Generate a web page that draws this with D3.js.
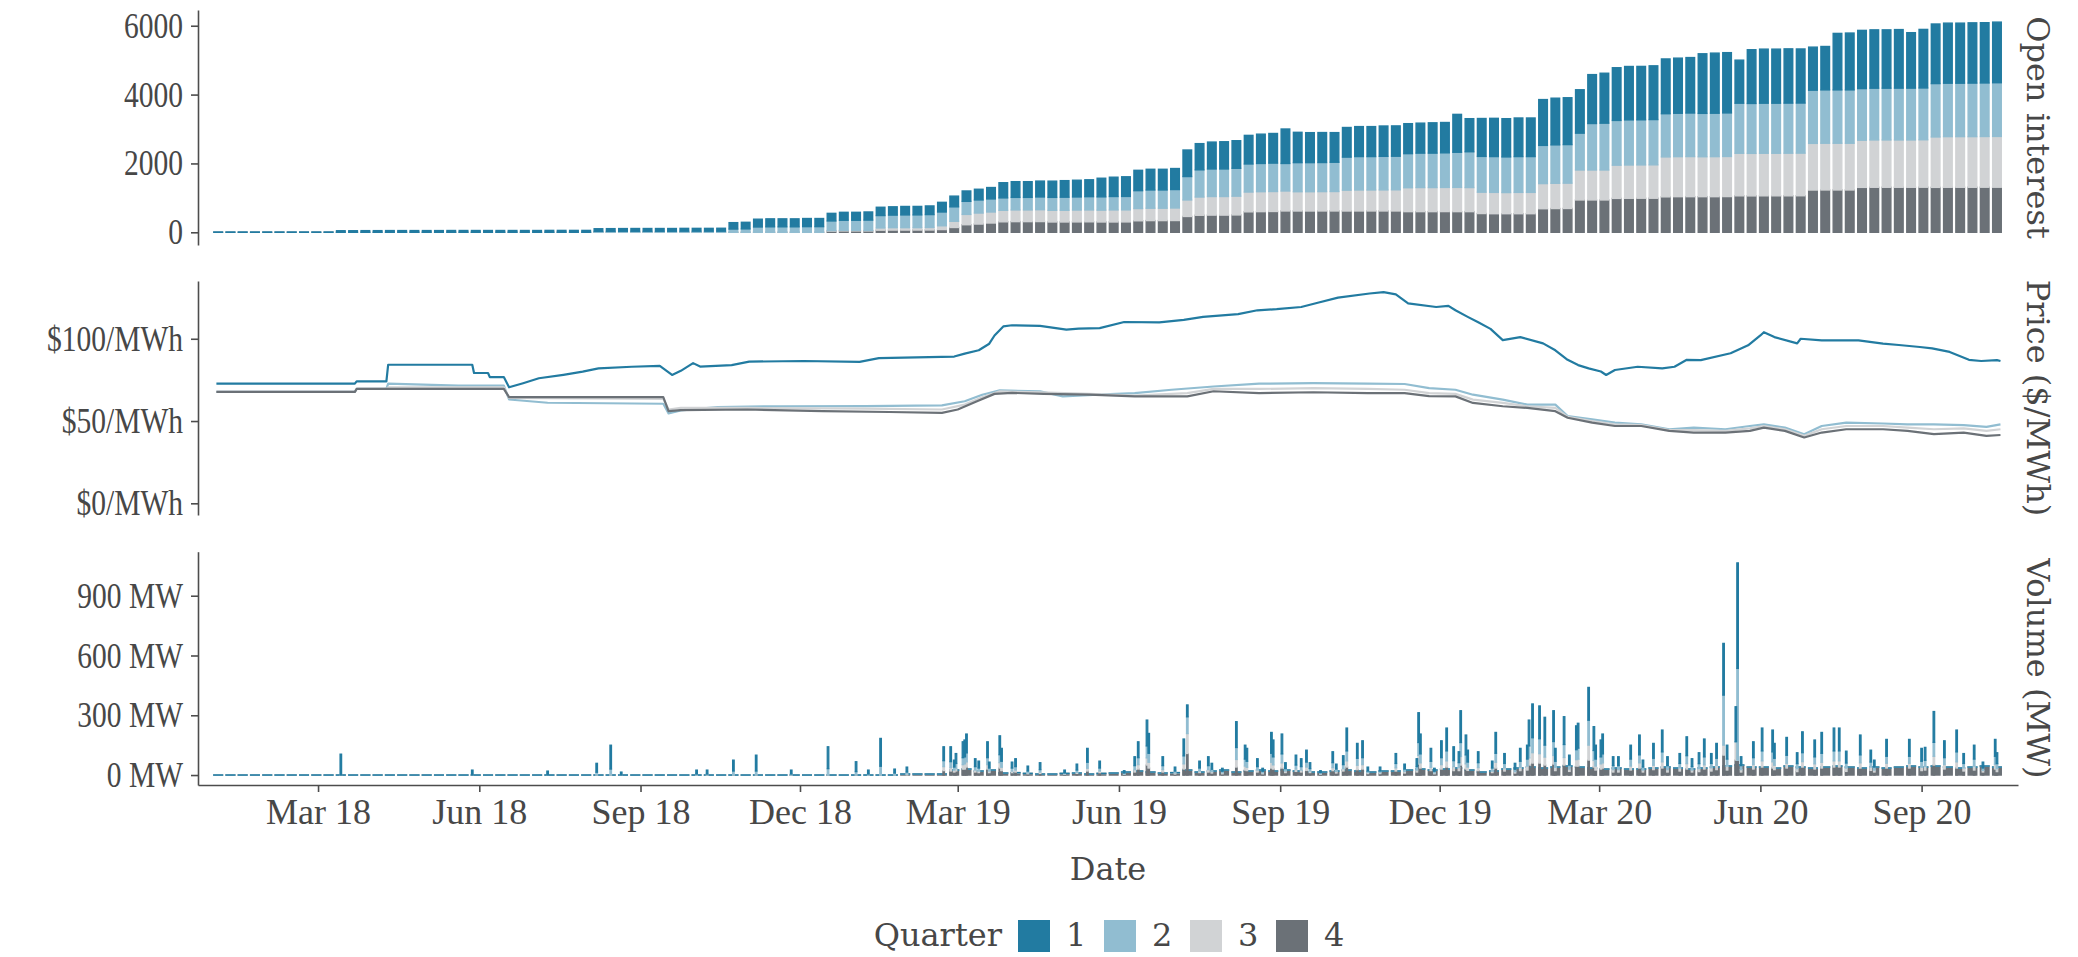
<!DOCTYPE html>
<html>
<head>
<meta charset="utf-8">
<script src="https://cdn.jsdelivr.net/npm/d3@7"></script>
<style>
body { margin: 0; background: #fff; }
svg text { fill: #474747; }
</style>
</head>
<body>
<script>
// quarters and their colours
var quarters = ["1", "2", "3", "4"];
var quarterColors = ["#227ba1", "#91bdd1", "#d1d3d5", "#6b7177"];

// x axis tick labels
var xTickDates = ["2018-03-01", "2018-06-01", "2018-09-01", "2018-12-01", "2019-03-01", "2019-06-01",
   "2019-09-01", "2019-12-01", "2020-03-01", "2020-06-01", "2020-09-01"];
var oiTicks = [0, 2000, 4000, 6000];
var priceTicks = [0, 50, 100];
var volTicks = [0, 300, 600, 900];

// open interest, one value per trading week, weeks starting Mon 1 Jan 2018
var oiFirstWeek = "2018-01-01";
var oiQ1 = [8, 8, 8, 8, 8, 8, 8, 8, 8, 8,
   45, 45, 48, 48, 50, 50, 50, 50, 50, 52, 52, 52, 52, 52, 52, 52, 52, 55, 55, 55, 55,
   75, 78, 78, 80, 80, 80, 80, 82, 82, 82, 85,
   185, 190, 225, 230, 230, 230, 235, 235,
   220, 230, 230, 235, 240, 240, 245, 245, 250, 280, 310,
   300, 310, 330, 440, 455, 455, 460, 470, 480, 485, 490, 540, 560, 570,
   590, 600, 600, 610, 770, 760, 780, 790, 800, 830, 850, 860, 1000,
   880, 870, 870, 860, 860, 870, 870, 880, 880, 870, 870, 880, 880, 1100, 960,
   1100, 1110, 1110, 1120, 1120, 1330, 1355, 1360, 1260, 1420, 1450,
   1530, 1550, 1550, 1560, 1590, 1600, 1610, 1730, 1745, 1750, 1250,
   1560, 1570, 1570, 1575, 1570, 1250, 1260, 1640, 1650,
   1690, 1694, 1694, 1700, 1610, 1700, 1730, 1744, 1744, 1750, 1750, 1760];
var oiQ2 = [0, 0, 0, 0, 0, 0, 0, 0, 0, 0,
   0, 0, 0, 0, 0, 0, 0, 0, 0, 0, 0, 0, 0, 0, 0, 0, 0, 0, 0, 0, 0,
   28, 28, 30, 30, 30, 30, 30, 32, 32, 32, 32,
   95, 100, 155, 160, 160, 160, 165, 165,
   280, 290, 290, 300, 360, 365, 370, 370, 375, 400, 420,
   380, 380, 380, 360, 365, 365, 370, 375, 380, 380, 385, 385, 390, 390,
   520, 530, 530, 535, 680, 790, 800, 800, 810, 815, 820, 825, 800,
   845, 845, 845, 850, 960, 970, 970, 975, 975, 990, 1000, 1000, 1005, 1020, 1040,
   1040, 1040, 1035, 1040, 1040, 1110, 1116, 1120, 1070, 1350, 1360,
   1300, 1310, 1310, 1315, 1255, 1260, 1265, 1260, 1261, 1265, 1454,
   1450, 1454, 1454, 1455, 1455, 1545, 1550, 1550, 1550,
   1500, 1503, 1503, 1505, 1505, 1505, 1550, 1552, 1552, 1555, 1555, 1560];
var oiQ3 = [0, 0, 0, 0, 0, 0, 0, 0, 0, 0,
   0, 0, 0, 0, 0, 0, 0, 0, 0, 0, 0, 0, 0, 0, 0, 0, 0, 0, 0, 0, 0,
   0, 0, 0, 0, 0, 0, 0, 0, 0, 0, 0,
   0, 0, 0, 0, 0, 0, 0, 0,
   15, 20, 20, 15, 65, 70, 70, 70, 72, 110, 180,
   300, 320, 320, 335, 340, 340, 345, 340, 340, 345, 345, 345, 350, 350,
   355, 360, 360, 365, 480, 530, 540, 540, 545, 575, 580, 580, 580,
   560, 560, 562, 565, 605, 610, 610, 612, 615, 695, 700, 700, 702, 705, 700,
   620, 620, 615, 620, 620, 730, 734, 736, 870, 870, 870,
   965, 968, 968, 970, 1160, 1163, 1165, 1160, 1163, 1165, 1236,
   1235, 1236, 1236, 1238, 1238, 1355, 1357, 1357, 1357,
   1370, 1375, 1375, 1375, 1375, 1378, 1465, 1471, 1471, 1471, 1473, 1475];
var oiQ4 = [0, 0, 0, 0, 0, 0, 0, 0, 0, 0,
   0, 0, 0, 0, 0, 0, 0, 0, 0, 0, 0, 0, 0, 0, 0, 0, 0, 0, 0, 0, 0,
   0, 0, 0, 0, 0, 0, 0, 0, 0, 0, 0,
   0, 0, 0, 0, 0, 0, 0, 0,
   35, 40, 40, 40, 62, 65, 65, 66, 68, 80, 140,
   220, 240, 270, 305, 310, 310, 312, 300, 300, 302, 305, 300, 300, 302,
   335, 340, 340, 342, 460, 495, 500, 500, 505, 595, 600, 605, 620,
   619, 619, 620, 620, 619, 620, 620, 620, 620, 600, 600, 600, 602, 600, 600,
   545, 540, 540, 540, 540, 685, 690, 692, 940, 940, 940,
   985, 988, 990, 990, 1030, 1035, 1035, 1035, 1035, 1038, 1060,
   1058, 1060, 1060, 1060, 1062, 1228, 1230, 1230, 1230,
   1305, 1308, 1308, 1308, 1308, 1310, 1305, 1308, 1308, 1308, 1310, 1310];

// settlement prices ($/MWh) [date, value]
var priceQ1 = [["2018-01-02", 72.7], ["2018-03-22", 72.7], ["2018-03-23", 74.1], ["2018-04-09", 74.1],
   ["2018-04-10", 84.2], ["2018-05-28", 84.2], ["2018-05-29", 79.2], ["2018-06-06", 79.2], ["2018-06-07", 76.7],
   ["2018-06-15", 76.7], ["2018-06-18", 70.5], ["2018-06-26", 73], ["2018-07-05", 76], ["2018-07-19", 78.1],
   ["2018-07-30", 80], ["2018-08-08", 82], ["2018-08-27", 83], ["2018-09-12", 83.5], ["2018-09-19", 78],
   ["2018-09-24", 80.5], ["2018-10-01", 85.2], ["2018-10-05", 83.1], ["2018-10-23", 84], ["2018-11-02", 86.1],
   ["2018-12-03", 86.5], ["2019-01-04", 86], ["2019-01-15", 88.2], ["2019-02-27", 89.2], ["2019-03-05", 91],
   ["2019-03-13", 93], ["2019-03-19", 97], ["2019-03-22", 102], ["2019-03-27", 107.5], ["2019-04-01", 108.2],
   ["2019-04-17", 107.8], ["2019-05-02", 105.5], ["2019-05-09", 106.2], ["2019-05-21", 106.5], ["2019-06-04", 110.2],
   ["2019-06-24", 110], ["2019-07-08", 111.5], ["2019-07-19", 113.3], ["2019-08-08", 115], ["2019-08-19", 117.3],
   ["2019-08-30", 118], ["2019-09-13", 119.3], ["2019-09-23", 122], ["2019-10-04", 125], ["2019-10-22", 127.5],
   ["2019-10-30", 128.3], ["2019-11-06", 127], ["2019-11-13", 121.5], ["2019-11-29", 119.3], ["2019-12-06", 120],
   ["2019-12-10", 117.3], ["2019-12-17", 113.3], ["2019-12-23", 110], ["2019-12-30", 106], ["2020-01-06", 99.2],
   ["2020-01-16", 101], ["2020-01-29", 97.2], ["2020-02-05", 93], ["2020-02-12", 87.2], ["2020-02-18", 84],
   ["2020-02-24", 82], ["2020-03-02", 80.1], ["2020-03-05", 78], ["2020-03-10", 81], ["2020-03-23", 83],
   ["2020-04-06", 82], ["2020-04-13", 83], ["2020-04-20", 87.2], ["2020-04-28", 87], ["2020-05-15", 91.2],
   ["2020-05-25", 96], ["2020-06-01", 102], ["2020-06-03", 104], ["2020-06-09", 101], ["2020-06-22", 97.2],
   ["2020-06-24", 100], ["2020-07-06", 99], ["2020-07-27", 99], ["2020-08-10", 97], ["2020-08-19", 96.2],
   ["2020-08-31", 95], ["2020-09-07", 94.2], ["2020-09-17", 92], ["2020-09-28", 87.2], ["2020-10-05", 86.5],
   ["2020-10-14", 87], ["2020-10-16", 86.5]];
var priceQ2 = [["2018-01-02", 67.7], ["2018-03-22", 67.7], ["2018-03-23", 69.5], ["2018-04-09", 69.5],
   ["2018-04-10", 72.7], ["2018-05-20", 71.5], ["2018-06-15", 71.5], ["2018-06-18", 63.1], ["2018-07-10", 61.1],
   ["2018-09-14", 60.5], ["2018-09-17", 54.6], ["2018-09-24", 56.5], ["2018-10-15", 58.5],
   ["2018-11-20", 59], ["2019-01-07", 59.1], ["2019-02-20", 59.5], ["2019-03-05", 62], ["2019-03-15", 66],
   ["2019-03-25", 68.7], ["2019-04-17", 68], ["2019-04-30", 65], ["2019-05-20", 66.1], ["2019-06-10", 67],
   ["2019-07-01", 69], ["2019-07-25", 71], ["2019-08-20", 72.7], ["2019-09-20", 73], ["2019-10-21", 72.7],
   ["2019-11-11", 72.5], ["2019-11-25", 70], ["2019-12-10", 69], ["2019-12-20", 66], ["2020-01-06", 63],
   ["2020-01-20", 60], ["2020-02-05", 60], ["2020-02-12", 53], ["2020-02-26", 51], ["2020-03-10", 49],
   ["2020-03-25", 48], ["2020-04-10", 45], ["2020-04-24", 46], ["2020-05-12", 45], ["2020-05-26", 47],
   ["2020-06-03", 48], ["2020-06-15", 46], ["2020-06-26", 42], ["2020-07-06", 47], ["2020-07-20", 49],
   ["2020-08-10", 48.5], ["2020-08-24", 48], ["2020-09-08", 48], ["2020-09-25", 47.5], ["2020-10-08", 46.5],
   ["2020-10-16", 48]];
var priceQ3 = [["2018-01-02", 67.7], ["2018-03-22", 67.7], ["2018-03-23", 69.5], ["2018-04-09", 69.5],
   ["2018-04-10", 70.5], ["2018-06-15", 70.5], ["2018-06-18", 64], ["2018-09-14", 63.5],
   ["2018-09-17", 57], ["2018-09-24", 58], ["2018-11-01", 58], ["2019-01-07", 57.5], ["2019-02-20", 57],
   ["2019-03-05", 60], ["2019-03-15", 64.5], ["2019-03-25", 68], ["2019-04-17", 67.5], ["2019-05-15", 66.5],
   ["2019-06-10", 65.5], ["2019-07-10", 67], ["2019-07-25", 69.5], ["2019-08-20", 69.5], ["2019-09-20", 70],
   ["2019-10-21", 69.5], ["2019-11-11", 69], ["2019-11-25", 67], ["2019-12-10", 66.5], ["2019-12-20", 63],
   ["2020-01-06", 61], ["2020-01-20", 59], ["2020-02-05", 58], ["2020-02-12", 52.5], ["2020-02-26", 50],
   ["2020-03-10", 48], ["2020-03-25", 47.5], ["2020-04-10", 44.5], ["2020-04-24", 44.5], ["2020-05-12", 44],
   ["2020-05-26", 45.5], ["2020-06-03", 47], ["2020-06-15", 45], ["2020-06-26", 41], ["2020-07-06", 45],
   ["2020-07-20", 47], ["2020-08-10", 47], ["2020-08-24", 46], ["2020-09-08", 45], ["2020-09-25", 45.5],
   ["2020-10-08", 44], ["2020-10-16", 45]];
var priceQ4 = [["2018-01-02", 67.7], ["2018-03-22", 67.7], ["2018-03-23", 69.5], ["2018-06-15", 69.5],
   ["2018-06-18", 64.5], ["2018-09-14", 64.5], ["2018-09-17", 56],
   ["2018-09-24", 56.6], ["2018-11-01", 57], ["2018-12-14", 56], ["2019-01-21", 55.5], ["2019-02-20", 55],
   ["2019-03-01", 57], ["2019-03-12", 62], ["2019-03-22", 66.5], ["2019-04-01", 67.1], ["2019-04-19", 66.5],
   ["2019-05-15", 66], ["2019-06-10", 65], ["2019-07-10", 65], ["2019-07-25", 68.1], ["2019-08-20", 67],
   ["2019-09-20", 67.5], ["2019-10-21", 67], ["2019-11-11", 67], ["2019-11-25", 65.1], ["2019-12-10", 65],
   ["2019-12-20", 61], ["2020-01-06", 59], ["2020-01-20", 58], ["2020-02-05", 56], ["2020-02-12", 52],
   ["2020-02-26", 49], ["2020-03-10", 47], ["2020-03-25", 47], ["2020-04-10", 44], ["2020-04-24", 43],
   ["2020-05-12", 43], ["2020-05-26", 44], ["2020-06-03", 46], ["2020-06-15", 44], ["2020-06-26", 40],
   ["2020-07-06", 43], ["2020-07-20", 45], ["2020-08-10", 45], ["2020-08-24", 44], ["2020-09-08", 42],
   ["2020-09-25", 43], ["2020-10-08", 41], ["2020-10-16", 41.5]];

// volume: background level of quarter 4 trading per week (MW), same weeks as open interest
var volBaseQ4 = [0, 0, 0, 0, 0, 0, 0, 0, 0, 0, 0, 0, 0, 0, 0, 0, 0, 0, 0, 0, 0, 0, 0, 0, 0, 0, 0, 0,
   0, 0, 0, 0, 0, 0, 0, 0, 0, 0, 0, 0, 0, 0, 0, 0, 0, 0, 0, 0, 0, 0, 0, 0, 0, 0, 0, 0,
   5, 5, 5, 5, 25, 30, 20, 25,
   10, 12, 8, 5, 5, 8, 10, 5, 8, 10, 15, 20, 15, 10, 12,
   25, 15, 20, 25, 15, 20, 25, 20, 25, 20, 15, 15, 20, 25, 20, 15, 20,
   20, 25, 30, 25, 30, 35, 25, 15, 20,
   30, 35, 40, 35, 40, 45, 40, 35, 30, 35, 30,
   30, 35, 40, 35, 30, 35, 40, 45, 50, 40,
   40, 35, 45, 40, 35, 40, 45, 40, 35, 40,
   35, 40, 45, 40, 45, 40, 35, 40, 45, 40];

// volume: trading days with visible bars [date, q1, q2, q3, q4] (MW)
var volDays = [
   ["2018-03-14", 105, 0, 0, 0], ["2018-05-28", 25, 0, 0, 0], ["2018-07-10", 20, 0, 0, 0],
   ["2018-08-07", 45, 14, 0, 0], ["2018-08-15", 120, 30, 0, 0], ["2018-08-21", 15, 0, 0, 0],
   ["2018-10-03", 20, 5, 0, 0], ["2018-10-09", 20, 5, 0, 0], ["2018-10-24", 55, 20, 0, 0],
   ["2018-11-06", 80, 20, 0, 0], ["2018-11-26", 20, 5, 0, 0], ["2018-12-17", 110, 32, 0, 0],
   ["2019-01-02", 50, 17, 0, 0], ["2019-01-09", 20, 5, 0, 0], ["2019-01-16", 140, 44, 0, 0],
   ["2019-01-24", 20, 10, 0, 0], ["2019-01-31", 25, 10, 5, 0],
   ["2019-02-21", 70, 30, 20, 22], ["2019-02-25", 75, 30, 17, 20], ["2019-02-27", 35, 15, 10, 15],
   ["2019-02-28", 50, 25, 13, 20], ["2019-03-04", 80, 35, 22, 30], ["2019-03-05", 85, 35, 26, 30],
   ["2019-03-06", 95, 45, 26, 40], ["2019-03-11", 40, 17, 10, 15], ["2019-03-13", 35, 15, 8, 12],
   ["2019-03-18", 80, 35, 22, 30], ["2019-03-19", 30, 15, 8, 12], ["2019-03-25", 95, 40, 27, 35],
   ["2019-03-26", 65, 30, 17, 22], ["2019-04-01", 30, 15, 8, 12], ["2019-04-03", 40, 17, 10, 15],
   ["2019-04-10", 25, 10, 4, 6], ["2019-04-17", 35, 12, 7, 8], ["2019-05-01", 15, 5, 2, 3],
   ["2019-05-08", 30, 12, 5, 8], ["2019-05-14", 70, 30, 14, 20], ["2019-05-21", 35, 15, 8, 12],
   ["2019-06-04", 12, 5, 2, 3], ["2019-06-10", 45, 20, 12, 15], ["2019-06-12", 80, 35, 22, 30],
   ["2019-06-17", 130, 60, 36, 50], ["2019-06-18", 100, 45, 29, 35], ["2019-06-26", 45, 20, 12, 15],
   ["2019-07-03", 20, 10, 5, 5], ["2019-07-08", 85, 40, 26, 30], ["2019-07-10", 60, 84, 100, 108],
   ["2019-07-17", 35, 15, 8, 12], ["2019-07-22", 45, 20, 12, 15], ["2019-07-24", 30, 12, 7, 10],
   ["2019-07-30", 15, 8, 5, 6], ["2019-08-07", 130, 60, 38, 40], ["2019-08-12", 70, 35, 20, 25],
   ["2019-08-13", 65, 30, 17, 22], ["2019-08-19", 40, 17, 10, 15], ["2019-08-22", 15, 8, 5, 6],
   ["2019-08-27", 105, 45, 29, 35], ["2019-08-28", 85, 40, 21, 30], ["2019-09-02", 100, 45, 26, 35],
   ["2019-09-04", 30, 12, 8, 12], ["2019-09-10", 50, 20, 12, 18], ["2019-09-13", 40, 17, 10, 15],
   ["2019-09-16", 60, 25, 17, 23], ["2019-09-18", 30, 12, 8, 12], ["2019-09-24", 10, 5, 3, 4],
   ["2019-10-01", 55, 25, 15, 22], ["2019-10-03", 25, 12, 8, 10], ["2019-10-07", 45, 20, 12, 20],
   ["2019-10-09", 115, 50, 31, 40], ["2019-10-15", 75, 35, 22, 27], ["2019-10-18", 85, 35, 22, 30],
   ["2019-10-21", 20, 8, 5, 7], ["2019-10-28", 20, 8, 5, 7], ["2019-11-06", 50, 22, 16, 20],
   ["2019-11-11", 25, 12, 8, 10], ["2019-11-18", 40, 17, 10, 15], ["2019-11-19", 150, 65, 43, 55],
   ["2019-11-20", 100, 45, 26, 35], ["2019-11-26", 65, 30, 17, 22], ["2019-11-28", 15, 8, 5, 6],
   ["2019-12-02", 85, 35, 22, 30], ["2019-12-05", 115, 50, 31, 40], ["2019-12-09", 70, 30, 20, 22],
   ["2019-12-12", 55, 25, 15, 22], ["2019-12-13", 160, 70, 43, 50], ["2019-12-16", 100, 45, 26, 30],
   ["2019-12-17", 60, 25, 17, 23], ["2019-12-23", 55, 25, 15, 22], ["2019-12-31", 35, 15, 8, 12],
   ["2020-01-02", 105, 45, 29, 35], ["2020-01-07", 50, 22, 16, 20], ["2020-01-13", 30, 12, 7, 10],
   ["2020-01-16", 65, 30, 17, 22], ["2020-01-20", 70, 35, 20, 25], ["2020-01-21", 130, 60, 36, 50],
   ["2020-01-23", 170, 75, 52, 60], ["2020-01-27", 165, 75, 47, 60], ["2020-01-30", 140, 60, 40, 50],
   ["2020-02-04", 155, 70, 43, 55], ["2020-02-05", 65, 30, 17, 22], ["2020-02-10", 140, 65, 38, 50],
   ["2020-02-13", 50, 20, 12, 18], ["2020-02-17", 120, 50, 32, 45], ["2020-02-18", 125, 55, 35, 45],
   ["2020-02-24", 165, 125, 75, 75], ["2020-02-27", 120, 50, 33, 40], ["2020-02-28", 70, 35, 20, 25],
   ["2020-03-02", 85, 35, 26, 30], ["2020-03-03", 100, 45, 26, 35], ["2020-03-09", 45, 20, 12, 15],
   ["2020-03-12", 45, 20, 12, 15], ["2020-03-19", 70, 35, 20, 25], ["2020-03-24", 100, 40, 26, 35],
   ["2020-03-26", 35, 15, 10, 15], ["2020-04-01", 75, 35, 22, 27], ["2020-04-06", 110, 50, 31, 35],
   ["2020-04-09", 45, 20, 12, 15], ["2020-04-16", 50, 22, 16, 20], ["2020-04-20", 95, 40, 27, 30],
   ["2020-04-23", 40, 17, 10, 15], ["2020-04-27", 55, 25, 15, 17], ["2020-04-30", 90, 40, 21, 30],
   ["2020-05-04", 50, 22, 16, 20], ["2020-05-07", 75, 35, 22, 27], ["2020-05-11", 260, 251, 50, 100],
   ["2020-05-13", 70, 35, 20, 25], ["2020-05-18", 176, 0, 92, 75], ["2020-05-19", 530, 460, 0, 75],
   ["2020-05-21", 45, 20, 12, 15], ["2020-05-28", 80, 35, 22, 30], ["2020-06-02", 115, 50, 31, 40],
   ["2020-06-08", 110, 50, 31, 35], ["2020-06-09", 75, 35, 22, 27], ["2020-06-16", 90, 40, 24, 35],
   ["2020-06-22", 55, 25, 15, 17], ["2020-06-25", 105, 45, 27, 40], ["2020-07-02", 85, 35, 26, 30],
   ["2020-07-06", 105, 45, 29, 35], ["2020-07-13", 115, 50, 31, 40], ["2020-07-16", 115, 50, 31, 40],
   ["2020-07-20", 60, 25, 17, 18], ["2020-07-28", 100, 40, 26, 35], ["2020-08-03", 60, 25, 17, 23],
   ["2020-08-05", 35, 15, 10, 15], ["2020-08-12", 85, 35, 24, 35], ["2020-08-25", 85, 35, 24, 35],
   ["2020-09-01", 65, 30, 17, 22], ["2020-09-03", 65, 30, 19, 25], ["2020-09-08", 155, 70, 44, 50],
   ["2020-09-14", 85, 35, 22, 30], ["2020-09-21", 110, 50, 31, 35], ["2020-09-25", 50, 22, 16, 20],
   ["2020-10-01", 70, 35, 20, 25], ["2020-10-06", 30, 12, 8, 15], ["2020-10-13", 85, 40, 24, 30],
   ["2020-10-14", 55, 25, 15, 17]];

var width = 2078, height = 957;
var left = 198, right = 2018;
var parseDate = d3.timeParse("%Y-%m-%d");
var keys = ["q4", "q3", "q2", "q1"];
var color = d3.scaleOrdinal().domain(["q1", "q2", "q3", "q4"]).range(quarterColors);

var svg = d3.select("body").append("svg")
   .attr("width", width)
   .attr("height", height);

var x = d3.scaleTime()
   .domain([new Date(2017, 11, 22, 12), new Date(2020, 9, 26)])
   .range([left, right]);

// panels
var yOI = d3.scaleLinear().domain([-369, 6457]).range([245, 10]);
var yPrice = d3.scaleLinear().domain([-7.1, 135.1]).range([515, 281]);
var yVol = d3.scaleLinear().domain([-50, 1121]).range([785, 551.7]);

// week rows
var firstWeek = parseDate(oiFirstWeek);
var weeks = oiQ1.map(function(v, i) {
   var mon = d3.timeDay.offset(firstWeek, 7 * i);
   return { start: mon, q1: v, q2: oiQ2[i] || 0, q3: oiQ3[i] || 0, q4: oiQ4[i] || 0 };
});

function drawStack(rows, y, x0, x1, sw) {
   var series = d3.stack().keys(keys)(rows);
   var g = svg.append("g");
   g.selectAll("g")
      .data(series)
      .join("g")
      .attr("fill", function(s) { return color(s.key); })
      .attr("stroke", function(s) { return color(s.key); })
      .attr("stroke-width", sw)
      .selectAll("rect")
      .data(function(s) { return s; })
      .join("rect")
      .attr("x", function(d) { return x(x0(d.data)); })
      .attr("width", function(d) { return x(x1(d.data)) - x(x0(d.data)); })
      .attr("y", function(d) { return y(d[1]); })
      .attr("height", function(d) { return Math.max(y(d[0]) - y(d[1]), 0.01); });
}

function weekStart(d) { return d3.timeHour.offset(d.start, -11); }
function weekEnd(d) { return d3.timeHour.offset(d.start, 4 * 24 + 11); }

// open interest
drawStack(weeks, yOI, weekStart, weekEnd, 1.4);

// price lines
var line = d3.line()
   .x(function(d) { return x(parseDate(d[0])); })
   .y(function(d) { return yPrice(d[1]); });

[priceQ1, priceQ2, priceQ3, priceQ4].forEach(function(p, i) {
   svg.append("path")
      .datum(p)
      .attr("fill", "none")
      .attr("stroke", quarterColors[i])
      .attr("stroke-width", 2.2)
      .attr("stroke-linejoin", "round")
      .attr("d", line);
});

// volume: weekly background, then daily bars
var volWeeks = volBaseQ4.map(function(v, i) {
   return { start: d3.timeDay.offset(firstWeek, 7 * i), q1: 0, q2: 0, q3: 0, q4: v };
});
drawStack(volWeeks, yVol, weekStart, weekEnd, 1.4);

var dayRows = volDays.map(function(d) {
   return { date: parseDate(d[0]), q1: d[1], q2: d[2], q3: d[3], q4: d[4] };
});
drawStack(dayRows, yVol,
   function(d) { return d3.timeHour.offset(d.date, -11); },
   function(d) { return d3.timeHour.offset(d.date, 11); }, 1.2);

// axes
function styleAxis(g) {
   g.attr("font-family", "'Liberation Serif', serif")
      .attr("font-size", 36)
      .attr("color", "#4d4d4d");
   g.selectAll("path, line").attr("stroke-width", 1.6);
   g.selectAll("text").attr("fill", "#474747");
}
// y labels in the original are set narrow
function narrowY(g) {
   g.selectAll(".tick text")
      .attr("x", 0)
      .attr("transform", "translate(-15,0) scale(0.82,1)");
}

svg.append("g")
   .attr("transform", "translate(" + left + ",0)")
   .call(d3.axisLeft(yOI).tickValues(oiTicks).tickSize(7).tickSizeOuter(0).tickFormat(d3.format("d")))
   .call(styleAxis)
   .call(narrowY);

svg.append("g")
   .attr("transform", "translate(" + left + ",0)")
   .call(d3.axisLeft(yPrice).tickValues(priceTicks).tickSize(7).tickSizeOuter(0)
      .tickFormat(function(d) { return "$" + d + "/MWh"; }))
   .call(styleAxis)
   .call(narrowY);

svg.append("g")
   .attr("transform", "translate(" + left + ",0)")
   .call(d3.axisLeft(yVol).tickValues(volTicks).tickSize(7).tickSizeOuter(0)
      .tickFormat(function(d) { return d + " MW"; }))
   .call(styleAxis)
   .call(narrowY);

svg.append("g")
   .attr("transform", "translate(0,785)")
   .call(d3.axisBottom(x).tickValues(xTickDates.map(parseDate)).tickSize(7).tickSizeOuter(0).tickPadding(6)
      .tickFormat(d3.timeFormat("%b %y")))
   .call(styleAxis);

// strip labels on the right
var strips = [["Open interest", yOI], ["Price ($/MWh)", yPrice], ["Volume (MW)", yVol]];
strips.forEach(function(s) {
   var r = s[1].range();
   svg.append("text")
      .attr("transform", "translate(2027," + (r[0] + r[1]) / 2 + ") rotate(90)")
      .attr("text-anchor", "middle")
      .attr("font-family", "'DejaVu Serif', serif")
      .attr("font-size", 32)
      .text(s[0]);
});

// x title
svg.append("text")
   .attr("x", (left + right) / 2)
   .attr("y", 880)
   .attr("text-anchor", "middle")
   .attr("font-family", "'DejaVu Serif', serif")
   .attr("font-size", 32)
   .text("Date");

// legend
var legend = svg.append("g").attr("font-family", "'DejaVu Serif', serif").attr("font-size", 32);
legend.append("text")
   .attr("x", 1002)
   .attr("y", 946)
   .attr("text-anchor", "end")
   .text("Quarter");
var item = legend.selectAll("g.item")
   .data(quarters)
   .join("g")
   .attr("class", "item")
   .attr("transform", function(d, i) { return "translate(" + (1018 + 86 * i) + ",920)"; });
item.append("rect")
   .attr("width", 32)
   .attr("height", 32)
   .attr("fill", function(d, i) { return quarterColors[i]; });
item.append("text")
   .attr("x", 48)
   .attr("y", 26)
   .text(function(d) { return d; });
</script>
</body>
</html>
